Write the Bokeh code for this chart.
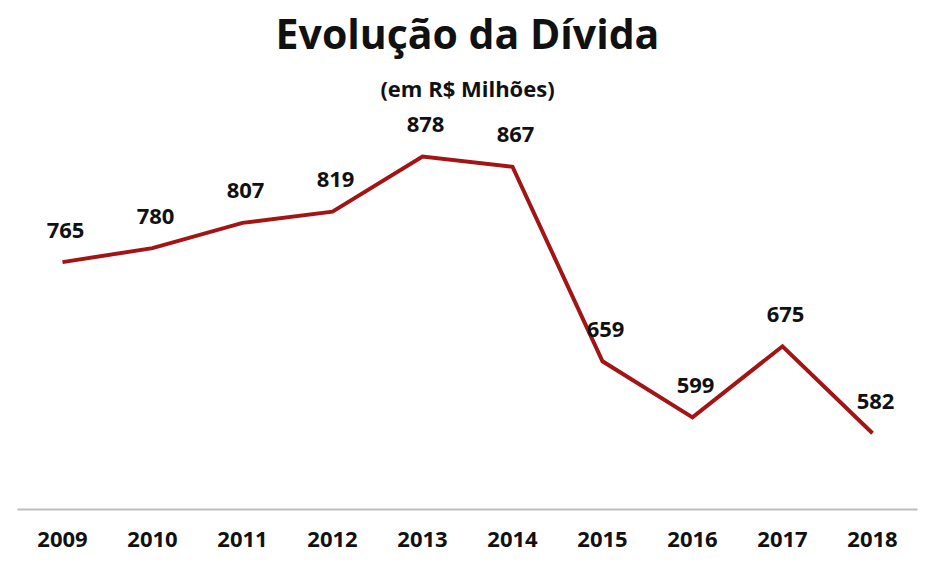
from bokeh.plotting import figure
from bokeh.models import Range1d, FactorRange, Title, ColumnDataSource, LabelSet
from bokeh.core.properties import value
from bokeh.embed import file_html
from bokeh.resources import INLINE

years = ["2009", "2010", "2011", "2012", "2013", "2014", "2015", "2016", "2017", "2018"]
values = [765, 780, 807, 819, 878, 867, 659, 599, 675, 582]
labels = [str(v) for v in values]

FONT = "Open Sans"
LINE_COLOR = "#A31515"

src = ColumnDataSource(dict(x=years, y=values, t=labels))

p = figure(width=934, height=554, x_range=FactorRange(*years), y_range=Range1d(500.5, 925),
           output_backend="svg", toolbar_location=None,
           min_border_left=17, min_border_right=17, min_border_top=112, min_border_bottom=45)
p.outline_line_color = None
p.grid.grid_line_color = None
p.yaxis.visible = False
p.background_fill_color = "white"
p.border_fill_color = "white"

p.xaxis.axis_line_color = "#BDBDBD"
p.xaxis.axis_line_width = 2
p.xaxis.major_tick_line_color = None
p.xaxis.minor_tick_line_color = None
p.xaxis.major_tick_out = 0
p.xaxis.major_tick_in = 0
p.xaxis.major_label_text_font = FONT
p.xaxis.major_label_text_font_style = "bold"
p.xaxis.major_label_text_font_size = "22px"
p.xaxis.major_label_text_color = "#111111"
p.xaxis.major_label_standoff = 22
p.x_range.range_padding = 0

p.line("x", "y", source=src, line_color=LINE_COLOR, line_width=4, line_join="miter")

lbl = LabelSet(x="x", y="y", text="t", source=src, x_offset=3, y_offset=32,
               text_align="center", text_baseline="middle",
               text_font=value(FONT), text_font_style="bold", text_font_size="22px",
               text_color="#111111")
p.add_layout(lbl)

sub = Title(text="(em R$ Milhões)", align="center", text_font=FONT, text_font_style="bold",
            text_font_size="22px", text_color="#111111", standoff=20)
p.add_layout(sub, "above")
main = Title(text="Evolução da Dívida", align="center", text_font=FONT, text_font_style="bold",
             text_font_size="41px", text_color="#111111", standoff=0)
p.add_layout(main, "above")

open("out.html", "w").write(file_html(p, INLINE))
